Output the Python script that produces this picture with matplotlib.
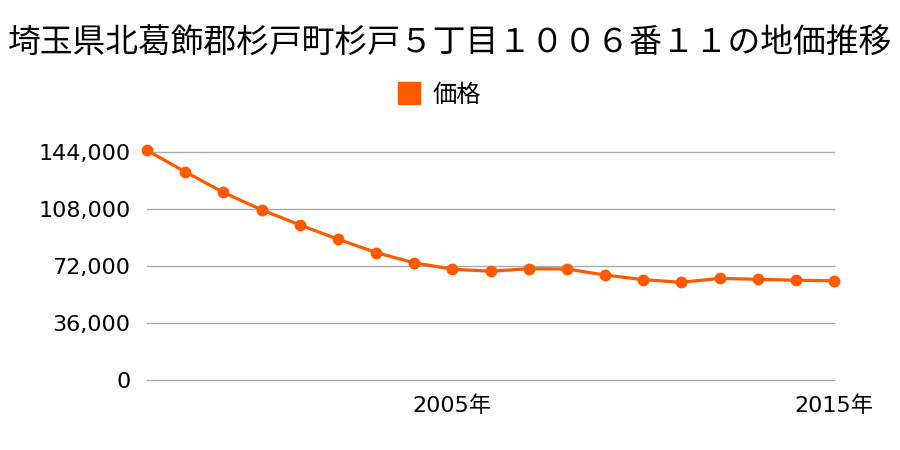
import matplotlib
matplotlib.use("Agg")
import matplotlib.pyplot as plt
from matplotlib.lines import Line2D

# data
years = list(range(1997, 2016))
prices = [145000, 131500, 118500, 107500, 98000, 89000, 80500, 74000, 70000,
          68700, 70300, 70100, 66300, 63400, 61700, 64200, 63600, 63000, 62700]
yticks = [0, 36000, 72000, 108000, 144000]
xlabel_years = [2005, 2015]

title = "埼玉県北葛飾郡杉戸町杉戸５丁目１００６番１１の地価推移"
series_name = "価格"

plt.rcParams['font.family'] = ['DejaVu Sans', 'Noto Sans CJK JP']
color = "#FF5A00"

fig = plt.figure(figsize=(9, 4.5), dpi=100)
ax = fig.add_axes([147/900, 70/450, (834-147)/900, (380-152)/450])

x = list(range(len(years)))
ax.plot(x, prices, color=color, lw=2.3, marker='o', markersize=7.5,
        clip_on=False, zorder=3)

ax.set_xlim(0, len(years) - 1)
ax.set_ylim(0, 144000)
ax.set_yticks(yticks)
ax.set_yticklabels([f"{v:,}" for v in yticks])
ax.set_xticks([years.index(y) for y in xlabel_years])
ax.set_xticklabels([f"{y}年" for y in xlabel_years])
ax.tick_params(axis='both', length=0, labelsize=16)
ax.tick_params(axis='y', pad=12)
ax.tick_params(axis='x', pad=11)
for v in yticks:
    ax.axhline(v, color='#AAAAAA', lw=1, zorder=1, clip_on=False)
for s in ax.spines.values():
    s.set_visible(False)

fig.text(0.5, 1 - 43/450, title, ha='center', va='center', fontsize=23.6,
         family='Noto Sans CJK JP')

handle = Line2D([], [], color=color, marker='s', linestyle='none', markersize=16.5)
fig.legend(handles=[handle], labels=[series_name], loc='center',
           bbox_to_anchor=(0.481, 1 - 95/450), frameon=False,
           prop={'family': 'Noto Sans CJK JP', 'size': 17.5}, handletextpad=0.0)

fig.savefig("out.png", dpi=100)
